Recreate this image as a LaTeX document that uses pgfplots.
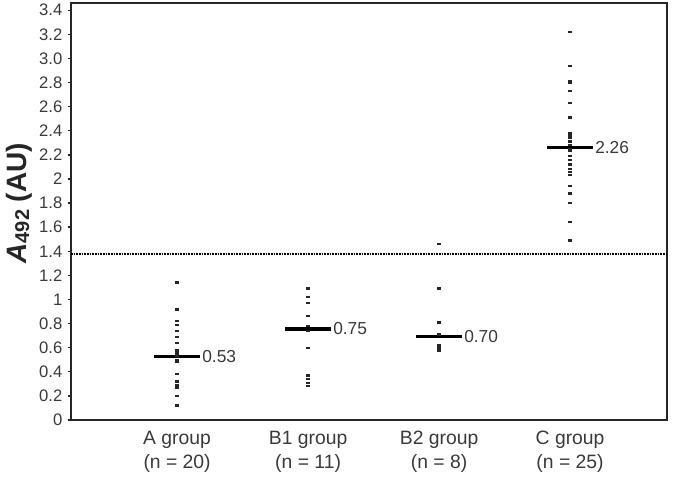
\documentclass[border=0pt]{standalone}
\usepackage{fontspec}
\setmainfont{Liberation Sans}
\usepackage{pgfplots}
\pgfplotsset{compat=1.18}
\definecolor{txt}{HTML}{3A3A3A}
\begin{document}
\begin{tikzpicture}
\begin{axis}[
  scale only axis, width=447pt, height=312.75pt,
  xmin=0.19, xmax=4.74, ymin=0, ymax=3.46,
  axis line style={line width=1.2pt, black!85},
  xtick={1,2,3,4},
  xticklabels={{A group\\(n = 20)},{B1 group\\(n = 11)},{B2 group\\(n = 8)},{C group\\(n = 25)}},
  xticklabel style={align=center, font=\fontsize{14.5}{18.5}\selectfont, text=txt, yshift=-2pt},
  major x tick style={draw=none},
  ytick pos=left,
  ytick={0,0.2,0.4,0.6,0.8,1,1.2,1.4,1.6,1.8,2,2.2,2.4,2.6,2.8,3.0,3.2,3.4},
  yticklabels={0,0.2,0.4,0.6,0.8,1,1.2,1.4,1.6,1.8,2,2.2,2.4,2.6,2.8,3.0,3.2,3.4},
  yticklabel style={font=\fontsize{12.5}{13}\selectfont, text=txt, xshift=-0.5pt},
  tick align=outside, major tick length=2.5pt,
  major y tick style={line width=1pt, black!85},
  clip=false,
]
% A group
\addplot[only marks, mark=-, mark size=1.6pt, mark options={line width=1.7pt, black!85}] coordinates {
(1,1.14) (1,0.92) (1,0.91) (1,0.82) (1,0.79) (1,0.74) (1,0.69) (1,0.64) (1,0.58) (1,0.56)
(1,0.55) (1,0.53) (1,0.50) (1,0.48) (1,0.38) (1,0.32) (1,0.29) (1,0.27) (1,0.20) (1,0.12)};
% B1 group
\addplot[only marks, mark=-, mark size=1.6pt, mark options={line width=1.7pt, black!85}] coordinates {
(2,1.09) (2,1.02) (2,0.97) (2,0.86) (2,0.78) (2,0.74) (2,0.60) (2,0.37) (2,0.34) (2,0.31) (2,0.28)};
% B2 group
\addplot[only marks, mark=-, mark size=1.6pt, mark options={line width=1.7pt, black!85}] coordinates {
(3,1.46) (3,1.09) (3,0.81) (3,0.71) (3,0.62) (3,0.61) (3,0.59) (3,0.57)};
% C group
\addplot[only marks, mark=-, mark size=1.6pt, mark options={line width=1.7pt, black!85}] coordinates {
(4,3.22) (4,2.94) (4,2.81) (4,2.80) (4,2.73) (4,2.63) (4,2.51) (4,2.38) (4,2.36) (4,2.34)
(4,2.31) (4,2.28) (4,2.25) (4,2.23) (4,2.19) (4,2.16) (4,2.12) (4,2.08) (4,2.06) (4,2.03)
(4,1.94) (4,1.88) (4,1.80) (4,1.64) (4,1.49)};
% means
\addplot[black, line width=2.3pt] coordinates {(0.825,0.53) (1.175,0.53)};
\addplot[black, line width=2.3pt] coordinates {(1.825,0.755) (2.175,0.755)};
\addplot[black, line width=2.3pt] coordinates {(2.825,0.69) (3.175,0.69)};
\addplot[black, line width=2.3pt] coordinates {(3.825,2.26) (4.175,2.26)};
% cutoff
\addplot[black, line width=1.3pt, dash pattern=on 1.2pt off 0.8pt] coordinates {(0.19,1.38) (4.74,1.38)};
\node[anchor=west, inner sep=1.5pt, font=\fontsize{13}{14}\selectfont, text=txt] at (axis cs:1.175,0.53) {0.53};
\node[anchor=west, inner sep=1.5pt, font=\fontsize{13}{14}\selectfont, text=txt] at (axis cs:2.175,0.755) {0.75};
\node[anchor=west, inner sep=1.5pt, font=\fontsize{13}{14}\selectfont, text=txt] at (axis cs:3.175,0.69) {0.70};
\node[anchor=west, inner sep=1.5pt, font=\fontsize{13}{14}\selectfont, text=txt] at (axis cs:4.175,2.26) {2.26};
\node[xshift=-39pt, rotate=90, anchor=center, font=\bfseries\fontsize{21}{24}\selectfont, text=black!85] at (rel axis cs:0,0.52) {\textit{A}\raisebox{-0.2ex}{\fontsize{15}{16}\selectfont 492} (AU)};
\end{axis}
\pgfresetboundingbox
\path (-53.25pt,-45.75pt) rectangle (456.75pt,315pt);
\end{tikzpicture}
\end{document}
